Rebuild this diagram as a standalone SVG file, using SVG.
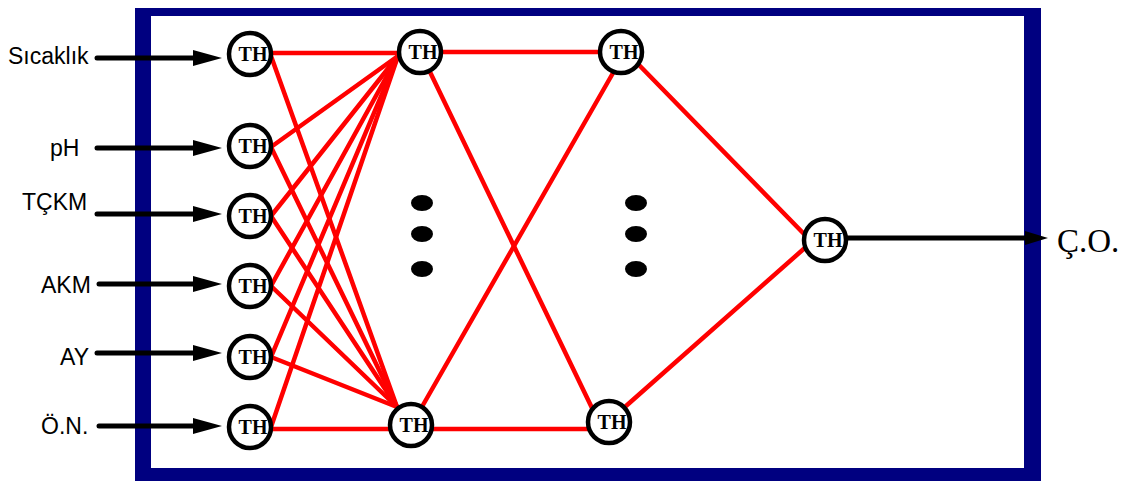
<svg xmlns="http://www.w3.org/2000/svg" width="1129" height="482" viewBox="0 0 1129 482">
<defs>
<style>
.lbl{font-family:"Liberation Sans",Arial,sans-serif;font-size:23px;fill:#000}
.out{font-family:"Liberation Serif","Times New Roman",serif;font-size:33px;fill:#000}
.node circle{fill:#fff;stroke:#000;stroke-width:4.5}
.node text{font-family:"Liberation Serif","Times New Roman",serif;font-weight:bold;font-size:20px;fill:#000;text-anchor:middle}
.red line{stroke:#ff0000;stroke-width:4.5;stroke-linecap:round}
.arr{stroke:#000;stroke-width:5;stroke-linecap:round;fill:none}
.dot{fill:#000}
</style>
<marker id="ah" markerUnits="userSpaceOnUse" markerWidth="30" markerHeight="16" refX="7" refY="8" orient="auto" overflow="visible">
<path d="M0,0 L29,8 L0,16 Z" fill="#000"/>
</marker>
<marker id="ah2" markerUnits="userSpaceOnUse" markerWidth="24" markerHeight="14" refX="3" refY="7" orient="auto" overflow="visible">
<path d="M0,0 L23,7 L0,14 Z" fill="#000"/>
</marker>
</defs>
<rect width="1129" height="482" fill="#fff"/>
<path id="frame" d="M135,8 H1041 V481 H135 Z M151,16 V468 H1024 V16 Z" fill="#000080" fill-rule="evenodd"/>

<g id="connectors">
<g class="red">
<line x1="271" y1="53" x2="400" y2="53"/>
<line x1="271" y1="147" x2="398" y2="56"/>
<line x1="271" y1="216" x2="398" y2="56"/>
<line x1="271" y1="286" x2="398" y2="56"/>
<line x1="271" y1="357" x2="398" y2="56"/>
<line x1="271" y1="427" x2="398" y2="56"/>
<line x1="271" y1="56" x2="397" y2="407"/>
<line x1="271" y1="147" x2="397" y2="407"/>
<line x1="271" y1="216" x2="397" y2="407"/>
<line x1="271" y1="286" x2="397" y2="407"/>
<line x1="271" y1="357" x2="397" y2="407"/>
<line x1="271" y1="429" x2="392" y2="429"/>
<line x1="441" y1="52" x2="600" y2="52"/>
<line x1="430" y1="72" x2="592" y2="408"/>
<line x1="423" y1="405" x2="613" y2="73"/>
<line x1="432" y1="429" x2="588" y2="429"/>
<line x1="640" y1="66" x2="806" y2="236"/>
<line x1="626" y1="406" x2="807" y2="246"/>
</g>
<line class="arr" x1="97" y1="58" x2="200" y2="58" marker-end="url(#ah)"/>
<line class="arr" x1="97" y1="148" x2="200" y2="148" marker-end="url(#ah)"/>
<line class="arr" x1="97" y1="214" x2="200" y2="214" marker-end="url(#ah)"/>
<line class="arr" x1="99" y1="284" x2="200" y2="284" marker-end="url(#ah)"/>
<line class="arr" x1="97" y1="353" x2="200" y2="353" marker-end="url(#ah)"/>
<line class="arr" x1="99" y1="426" x2="200" y2="426" marker-end="url(#ah)"/>
<line class="arr" x1="846" y1="238" x2="1028" y2="238" stroke-linecap="butt" marker-end="url(#ah2)"/>
</g>

<g id="labels">
<text class="lbl" x="8" y="64">Sıcaklık</text>
<text class="lbl" x="50" y="156">pH</text>
<text class="lbl" x="22" y="210">TÇKM</text>
<text class="lbl" x="41" y="293">AKM</text>
<text class="lbl" x="60" y="365">AY</text>
<text class="lbl" x="41" y="434">Ö.N.</text>
<text class="out" x="1057" y="252">Ç.O.</text>
</g>

<g id="dots">
<ellipse class="dot" cx="422" cy="203" rx="11" ry="8"/>
<ellipse class="dot" cx="422" cy="234" rx="11" ry="8"/>
<ellipse class="dot" cx="422" cy="269" rx="11" ry="8"/>
<ellipse class="dot" cx="636" cy="203" rx="11" ry="8"/>
<ellipse class="dot" cx="636" cy="234" rx="11" ry="8"/>
<ellipse class="dot" cx="636" cy="269" rx="11" ry="8"/>
</g>

<g id="in1" class="node"><circle cx="250" cy="54" r="21"/><text x="253" y="61">TH</text></g>
<g id="in2" class="node"><circle cx="250" cy="146" r="21"/><text x="253" y="153">TH</text></g>
<g id="in3" class="node"><circle cx="250" cy="216" r="21"/><text x="253" y="223">TH</text></g>
<g id="in4" class="node"><circle cx="250" cy="286" r="21"/><text x="253" y="293">TH</text></g>
<g id="in5" class="node"><circle cx="250" cy="357" r="21"/><text x="253" y="364">TH</text></g>
<g id="in6" class="node"><circle cx="250" cy="427" r="21"/><text x="253" y="434">TH</text></g>
<g id="h1top" class="node"><circle cx="420" cy="52" r="21"/><text x="423" y="59">TH</text></g>
<g id="h1bot" class="node"><circle cx="411" cy="425" r="21"/><text x="414" y="432">TH</text></g>
<g id="h2top" class="node"><circle cx="621" cy="52" r="21"/><text x="624" y="59">TH</text></g>
<g id="h2bot" class="node"><circle cx="609" cy="422" r="21"/><text x="612" y="429">TH</text></g>
<g id="out" class="node"><circle cx="825" cy="240" r="21"/><text x="828" y="247">TH</text></g>
</svg>
